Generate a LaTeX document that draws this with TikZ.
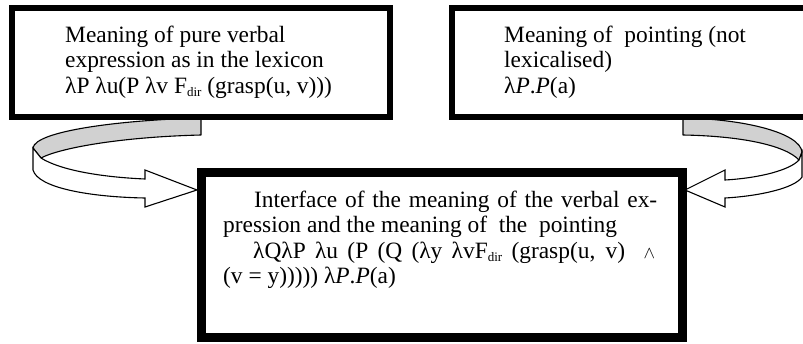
\documentclass[tikz,border=0pt]{standalone}
\usepackage{fontspec}
\setmainfont{Liberation Serif}
\newcommand{\dirsub}{\raisebox{-3.5pt}{\fontsize{13}{13}\selectfont dir}}
\begin{document}
\begin{tikzpicture}[x=1pt,y=-1pt,
  txt/.style={anchor=base west, inner sep=0pt, font=\fontsize{23.4}{25.5}\selectfont},
  thinbox/.style={draw, line width=6pt, fill=white, anchor=north west, inner sep=0pt, outer sep=0pt},
  thickbox/.style={draw, line width=9pt, fill=white, anchor=north west, inner sep=0pt, outer sep=0pt},
  ribbonback/.style={draw, line width=1.1pt, fill=black!18, line join=round},
  ribbonfront/.style={draw, line width=1.1pt, fill=white, line join=miter}]
\useasboundingbox (0,0) rectangle (803,343);
\clip (0,0) rectangle (803,343);

% left ribbon arrow
\draw[ribbonback] (201,118) .. controls (120,120) and (35,131) .. (33,148) -- (41,158)
  .. controls (60,148) and (120,137) .. (201,135) -- cycle;
\draw[ribbonfront] (33,148) -- (41,158) .. controls (60,170) and (100,177) .. (145,179)
  -- (145,170) -- (197,190) -- (145,207) -- (145,198)
  .. controls (90,197) and (38,188) .. (33,170) -- cycle;

% right ribbon arrow
\draw[ribbonback] (683,118) .. controls (745,119) and (800,133) .. (802,152) -- (799,160)
  .. controls (785,145) and (740,136) .. (683,135) -- cycle;
\draw[ribbonfront] (802,152) -- (799,160) .. controls (790,170) and (760,178) .. (725,180)
  -- (725,170) -- (685,190) -- (725,207) -- (725,198)
  .. controls (760,196) and (795,188) .. (802,177) -- cycle;

% boxes
\node[thinbox, minimum width=377.5pt, minimum height=109pt] (b1) at (12,7.5) {};
\node[thinbox, minimum width=400pt, minimum height=109pt] (b2) at (452,7.5) {};
\node[thickbox, minimum width=481pt, minimum height=165pt] (b3) at (201.5,172.5) {};

% texts
\node[txt] (t11) at (65,42) {Meaning of pure verbal};
\node[txt] (t12) at (65,67.5) {expression as in the lexicon};
\node[txt] (t13) at (65,93) {λP λu(P λv F\dirsub\ (grasp(u, v)))};

\node[txt] (t21) at (504,42) {Meaning of\ \ pointing (not};
\node[txt] (t22) at (504,67.5) {lexicalised)};
\node[txt] (t23) at (504,93) {λ\textit{P}.\textit{P}(a)};

\node[txt] (t31) at (223,207) {\makebox[434pt][s]{\hspace*{31pt}Interface of the meaning of the verbal ex-}};
\node[txt] (t32) at (223,232.5) {pression and the meaning of\ \ the\ \ pointing};
\node[txt] (t33) at (223,258) {\makebox[432pt][s]{\hspace*{30pt}λQλP λu (P (Q (λy λvF\dirsub\ (grasp(u, v)\ \ {\fontsize{19}{19}\selectfont$\wedge$}}};
\node[txt] (t34) at (223,283.5) {(v = y))))) λ\textit{P}.\textit{P}(a)};
\end{tikzpicture}
\end{document}
